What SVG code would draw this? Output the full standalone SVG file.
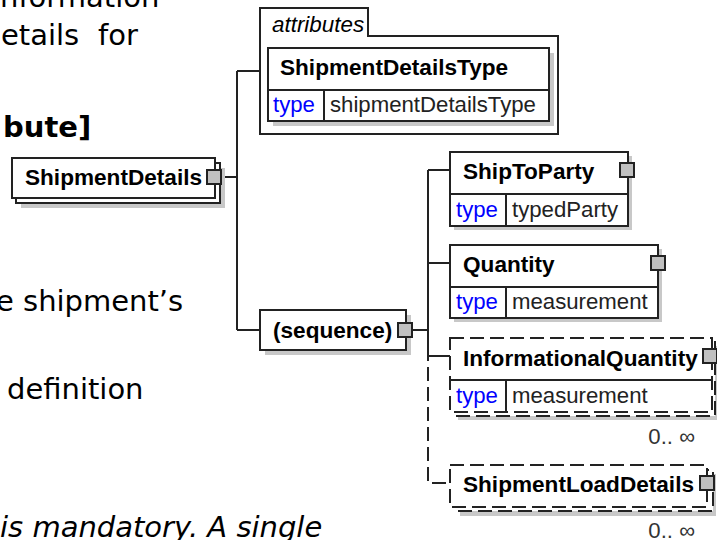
<svg xmlns="http://www.w3.org/2000/svg" width="717" height="540" viewBox="0 0 717 540">
<style>
.bg{font-family:"DejaVu Sans",Verdana,sans-serif;font-size:29px;fill:#000}
.nm{font-family:"Liberation Sans",Arial,sans-serif;font-size:22.6px;font-weight:bold;fill:#000}
.it{font-family:"Liberation Sans",Arial,sans-serif;font-size:22.4px;font-style:italic;fill:#000}
.ty{font-family:"Liberation Sans",Arial,sans-serif;font-size:22.2px;fill:#0000ff}
.tv{font-family:"Liberation Sans",Arial,sans-serif;font-size:22.2px;fill:#222}
.oc{font-family:"Liberation Sans",Arial,sans-serif;font-size:22.2px;fill:#333;text-anchor:end}
.box{fill:#fff;stroke:#222;stroke-width:2}
.dbox{fill:#fff;stroke:#222;stroke-width:2;stroke-dasharray:14 6}
.shd{fill:#c8c8c8}
.sq{fill:#c0c0c0;stroke:#222;stroke-width:2}
.ln{fill:none;stroke:#222;stroke-width:2}
.dln{fill:none;stroke:#222;stroke-width:2;stroke-dasharray:14 6}
</style>
<rect width="717" height="540" fill="#fff"/>
<g id="background-text">
<text class="bg" x="0" y="7">nformation</text>
<text class="bg" y="45"><tspan x="1">etails</tspan><tspan x="98">for</tspan></text>
<text class="bg" x="3" y="137" font-weight="bold">bute]</text>
<text class="bg" x="-4" y="311">e shipment’s</text>
<text class="bg" x="7" y="399">definition</text>
<text class="bg" x="0" y="537" font-style="italic">is mandatory. A single</text>
</g>
<g id="connectors">
<path class="ln" d="M221,177 H237 M237,71 V330 M237,71 H260 M237,330 H260"/>
<path class="ln" d="M412,330 H428 M428,170 V347 M428,170 H450 M428,263 H450 M428,356 H450"/>
<path class="dln" d="M428,347 V483 H450"/>
</g>
<g id="ShipmentDetails">
<rect class="shd" x="21" y="168" width="204" height="40"/>
<rect class="box" x="16" y="163" width="204" height="40"/>
<rect class="box" x="12" y="158" width="203" height="40"/>
<text class="nm" x="25" y="185">ShipmentDetails</text>
<rect class="sq" x="207" y="170" width="14" height="14"/>
</g>
<g id="attributes">
<path class="box" d="M260,134 V8 H368 V36 H558 V134 Z"/>
<text class="it" x="272" y="32">attributes</text>
</g>
<g id="ShipmentDetailsType">
<rect class="shd" x="273" y="53" width="281" height="73"/>
<rect class="box" x="268" y="48" width="281" height="73"/>
<path class="ln" d="M268,90 H549 M324,90 V121"/>
<text class="nm" x="280" y="75">ShipmentDetailsType</text>
<text class="ty" x="273" y="112">type</text>
<text class="tv" x="330" y="112">shipmentDetailsType</text>
</g>
<g id="sequence">
<rect class="shd" x="265" y="315" width="146" height="40"/>
<rect class="box" x="260" y="310" width="146" height="40"/>
<text class="nm" x="273" y="338">(sequence)</text>
<rect class="sq" x="398" y="323" width="14" height="14"/>
</g>
<g id="ShipToParty">
<rect class="shd" x="454" y="156" width="178" height="74"/>
<rect class="box" x="450" y="152" width="178" height="74"/>
<path class="ln" d="M450,194 H628 M506,194 V226"/>
<text class="nm" x="463" y="179">ShipToParty</text>
<text class="ty" x="456" y="217">type</text>
<text class="tv" x="512" y="217">typedParty</text>
<rect class="sq" x="620" y="163" width="14" height="14"/>
</g>
<g id="Quantity">
<rect class="shd" x="454" y="249" width="208" height="73"/>
<rect class="box" x="450" y="245" width="208" height="73"/>
<path class="ln" d="M450,287 H658 M506,287 V318"/>
<text class="nm" x="463" y="272">Quantity</text>
<text class="ty" x="456" y="309">type</text>
<text class="tv" x="512" y="309">measurement</text>
<rect class="sq" x="651" y="256" width="14" height="14"/>
</g>
<g id="InformationalQuantity">
<rect class="shd" x="458" y="346" width="261" height="74"/>
<rect class="dbox" x="454" y="342" width="261" height="74"/>
<rect class="dbox" x="450" y="338" width="262" height="74"/>
<path class="ln" d="M450,380 H712 M506,380 V412"/>
<text class="nm" x="463" y="366">InformationalQuantity</text>
<text class="ty" x="456" y="403">type</text>
<text class="tv" x="512" y="403">measurement</text>
<rect class="sq" x="703" y="349" width="14" height="14"/>
<text class="oc" x="695" y="444">0.. ∞</text>
</g>
<g id="ShipmentLoadDetails">
<rect class="shd" x="460" y="474" width="256" height="42"/>
<rect class="dbox" x="455" y="470" width="258" height="41"/>
<rect class="dbox" x="450" y="465" width="257" height="42"/>
<text class="nm" x="463" y="492">ShipmentLoadDetails</text>
<rect class="sq" x="700" y="476" width="14" height="14"/>
<text class="oc" x="695" y="538">0.. ∞</text>
</g>
</svg>
